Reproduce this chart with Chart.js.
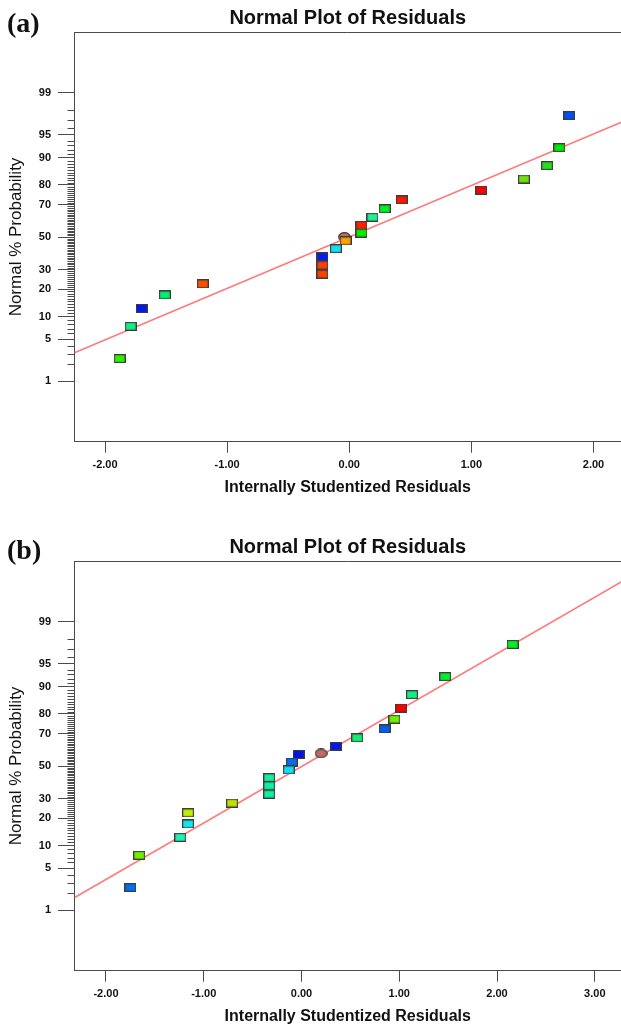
<!DOCTYPE html>
<html>
<head>
<meta charset="utf-8">
<title>Normal Plot of Residuals</title>
<script src="https://cdn.jsdelivr.net/npm/chart.js@4.4.1/dist/chart.umd.min.js"></script>
<style>
    html, body { margin: 0; padding: 0; background: #fff; }
    body { width: 621px; height: 1028px; position: relative; overflow: hidden; }
    .panel { position: absolute; left: 0; width: 621px; height: 500px; }
    .etiqueta {
        position: absolute; left: 7px;
        font-family: "Liberation Serif", "Times New Roman", serif;
        font-weight: bold; font-size: 28px; line-height: 1; color: #111;
    }
</style>
</head>
<body>
<div class="panel" style="top:0"><canvas id="graficaA"></canvas></div>
<div class="panel" style="top:528.7px"><canvas id="graficaB"></canvas></div>
<div class="etiqueta" style="top:9px">(a)</div>
<div class="etiqueta" style="top:536px">(b)</div>

<script>
// Panel (a)
const residualesA = [1.80, 1.72, 1.62, 1.43, 1.08, 0.43, 0.29, 0.19, 0.10, 0.10,
    -0.03, -0.11, -0.22, -0.22, -0.22, -1.20, -1.51, -1.70, -1.79, -1.88];
const probabilidadA = [97.5, 92.5, 87.5, 82.5, 77.5, 72.5, 67.5, 62.5, 57.5, 52.5,
    47.5, 42.5, 37.5, 32.5, 27.5, 22.5, 17.5, 12.5, 7.5, 2.5];
const coloresA = ["#0050f0", "#00e800", "#20e020", "#70e010", "#ff0000", "#ff1500",
    "#00f020", "#20f090", "#ff2000", "#00f000", "#ffa000", "#10e0f0", "#0020f0",
    "#ff4000", "#ff4000", "#ff5000", "#00f070", "#0018f0", "#10f080", "#30f000"];
const circuloResidualA = [-0.04];
const circuloProbA = [50];
const lineaResidualA = [-2.25, 2.23];
const lineaProbA = [3.1, 96.8];
const rangoXA = [-2.25, 2.225];
const ticksXA = [-2, -1, 0, 1, 2];

// Panel (b)
const residualesB = [2.16, 1.47, 1.13, 1.02, 0.95, 0.85, 0.57, 0.35, -0.03, -0.10,
    -0.13, -0.33, -0.33, -0.33, -0.71, -1.16, -1.16, -1.24, -1.66, -1.75];
const probabilidadB = [97.5, 92.5, 87.5, 82.5, 77.5, 72.5, 67.5, 62.5, 57.5, 52.5,
    47.5, 42.5, 37.5, 32.5, 27.5, 22.5, 17.5, 12.5, 7.5, 2.5];
const coloresB = ["#00f020", "#00f030", "#10f080", "#ff0000", "#70f000", "#0060f0",
    "#10f070", "#0018f0", "#0010e8", "#0070f0", "#10e0f0", "#10f0a0", "#10f0a0",
    "#10f0a0", "#c0e000", "#c0f000", "#10e8f0", "#20f0b0", "#70f000", "#0070f0"];
const circuloResidualB = [0.20];
const circuloProbB = [58];
const lineaResidualB = [-2.32, 3.27];
const lineaProbB = [1.7, 99.85];
const rangoXB = [-2.322, 3.268];
const ticksXB = [-2, -1, 0, 1, 2, 3];

// eje de probabilidad normal
const ticksProbabilidad = [1, 5, 10, 20, 30, 50, 70, 80, 90, 95, 99];

const colorEje = "#4a4a4a";
const colorTexto = "#111";
const fuente = "'Liberation Sans', Arial, sans-serif";

// inversa de la normal (Acklam)
function probit(p) {
    const a = [-3.969683028665376e1, 2.209460984245205e2, -2.759285104469687e2,
        1.38357751867269e2, -3.066479806614716e1, 2.506628277459239];
    const b = [-5.447609879822406e1, 1.615858368580409e2, -1.556989798598866e2,
        6.680131188771972e1, -1.328068155288572e1];
    const c = [-7.784894002430293e-3, -3.223964580411365e-1, -2.400758277161838,
        -2.549732539343734, 4.374664141464968, 2.938163982698783];
    const d = [7.784695709041462e-3, 3.224671290700398e-1, 2.445134137142996,
        3.754408661907416];
    const pl = 0.02425;
    let q, r;
    if (p < pl) {
        q = Math.sqrt(-2 * Math.log(p));
        return (((((c[0] * q + c[1]) * q + c[2]) * q + c[3]) * q + c[4]) * q + c[5]) /
            ((((d[0] * q + d[1]) * q + d[2]) * q + d[3]) * q + 1);
    }
    if (p <= 1 - pl) {
        q = p - 0.5;
        r = q * q;
        return (((((a[0] * r + a[1]) * r + a[2]) * r + a[3]) * r + a[4]) * r + a[5]) * q /
            (((((b[0] * r + b[1]) * r + b[2]) * r + b[3]) * r + b[4]) * r + 1);
    }
    q = Math.sqrt(-2 * Math.log(1 - p));
    return -(((((c[0] * q + c[1]) * q + c[2]) * q + c[3]) * q + c[4]) * q + c[5]) /
        ((((d[0] * q + d[1]) * q + d[2]) * q + d[3]) * q + 1);
}

function marcador(color, circulo) {
    const cv = document.createElement("canvas");
    cv.width = circulo ? 13 : 12;
    cv.height = circulo ? 10 : 9;
    const g = cv.getContext("2d");
    g.fillStyle = color;
    g.strokeStyle = "#3c3c3c";
    g.lineWidth = 1.2;
    if (circulo) {
        g.beginPath();
        g.ellipse(6.5, 5, 5.8, 4.3, 0, 0, Math.PI * 2);
        g.fill();
        g.stroke();
    } else {
        g.fillRect(1, 1, 10, 7);
        g.strokeRect(0.6, 0.6, 10.8, 7.8);
    }
    return cv;
}

const marcasMenores = {
    id: "marcasMenores",
    afterDraw(chart) {
        const { ctx, chartArea, scales } = chart;
        ctx.save();
        ctx.strokeStyle = colorEje;
        ctx.lineWidth = 1;
        ctx.beginPath();
        for (let p = 1; p <= 99; p++) {
            if (ticksProbabilidad.includes(p)) continue;
            const py = Math.round(scales.y.getPixelForValue(probit(p / 100))) + 0.5;
            ctx.moveTo(chartArea.left - 7, py);
            ctx.lineTo(chartArea.left, py);
        }
        const top = Math.round(chartArea.top) + 0.5;
        ctx.moveTo(chartArea.left, top);
        ctx.lineTo(chartArea.right, top);
        ctx.stroke();
        ctx.restore();
    },
};

function crearGrafica(id, residuales, probs, colores, circX, circP, lineaX, lineaP, rangoX, ticksX) {
    const puntos = residuales.map((r, i) => ({ x: r, y: probit(probs[i] / 100) }));
    const circulo = circX.map((r, i) => ({ x: r, y: probit(circP[i] / 100) }));
    const linea = lineaX.map((r, i) => ({ x: r, y: probit(lineaP[i] / 100) }));

    new Chart(document.getElementById(id), {
        type: "scatter",
        data: {
            datasets: [
                {
                    data: puntos,
                    pointStyle: colores.map((c) => marcador(c, false)),
                    pointRadius: 5,
                    order: 1,
                },
                {
                    data: circulo,
                    pointStyle: circX.map(() => marcador("#c46868", true)),
                    pointRadius: 5,
                    order: 2,
                },
                {
                    data: linea,
                    showLine: true,
                    borderColor: "#ff7a7a",
                    borderWidth: 1.6,
                    pointRadius: 0,
                    order: 3,
                },
            ],
        },
        options: {
            animation: false,
            responsive: true,
            maintainAspectRatio: false,
            events: [],
            layout: { autoPadding: false, padding: { left: 0, right: 0, top: 0, bottom: 2.8 } },
            plugins: {
                legend: { display: false },
                tooltip: { enabled: false },
                title: {
                    display: true,
                    fullSize: false,
                    text: "Normal Plot of Residuals",
                    color: colorTexto,
                    font: { family: fuente, size: 20, weight: "bold" },
                    padding: { top: 6, bottom: 2.3 },
                },
            },
            scales: {
                x: {
                    type: "linear",
                    min: rangoX[0],
                    max: rangoX[1],
                    afterBuildTicks: (s) => { s.ticks = ticksX.map((v) => ({ value: v })); },
                    afterFit: (s) => {
                        s.height = 55.5;
                        s.paddingLeft = 0;
                        s.paddingRight = 0;
                    },
                    border: { color: colorEje, width: 1 },
                    grid: { drawOnChartArea: false, drawTicks: true, tickLength: 11, color: colorEje },
                    ticks: {
                        autoSkip: false,
                        maxRotation: 0,
                        padding: 5.4,
                        color: colorTexto,
                        font: { family: fuente, size: 11, weight: "bold" },
                        callback: (v) => Number(v).toFixed(2),
                    },
                    title: {
                        display: true,
                        text: "Internally Studentized Residuals",
                        color: colorTexto,
                        font: { family: fuente, size: 16, weight: "bold" },
                        padding: 0,
                    },
                },
                y: {
                    type: "linear",
                    min: -3.3,
                    max: 3.3,
                    afterBuildTicks: (s) => {
                        s.ticks = ticksProbabilidad.map((p) => ({ value: probit(p / 100) }));
                    },
                    afterFit: (s) => {
                        s.width = 74.5;
                        s.paddingTop = 0;
                        s.paddingBottom = 0;
                    },
                    border: { color: colorEje, width: 1 },
                    grid: { drawOnChartArea: false, drawTicks: true, tickLength: 16.5, color: colorEje },
                    ticks: {
                        autoSkip: false,
                        padding: 7,
                        color: colorTexto,
                        font: { family: fuente, size: 11, weight: "bold" },
                        callback: (v, i) => String(ticksProbabilidad[i]),
                    },
                    title: {
                        display: true,
                        text: "Normal % Probability",
                        color: colorTexto,
                        font: { family: fuente, size: 17, weight: "normal" },
                        padding: { top: 6.5, bottom: 0 },
                    },
                },
            },
        },
        plugins: [marcasMenores],
    });
}

crearGrafica("graficaA", residualesA, probabilidadA, coloresA, circuloResidualA, circuloProbA,
    lineaResidualA, lineaProbA, rangoXA, ticksXA);
crearGrafica("graficaB", residualesB, probabilidadB, coloresB, circuloResidualB, circuloProbB,
    lineaResidualB, lineaProbB, rangoXB, ticksXB);
</script>
</body>
</html>
